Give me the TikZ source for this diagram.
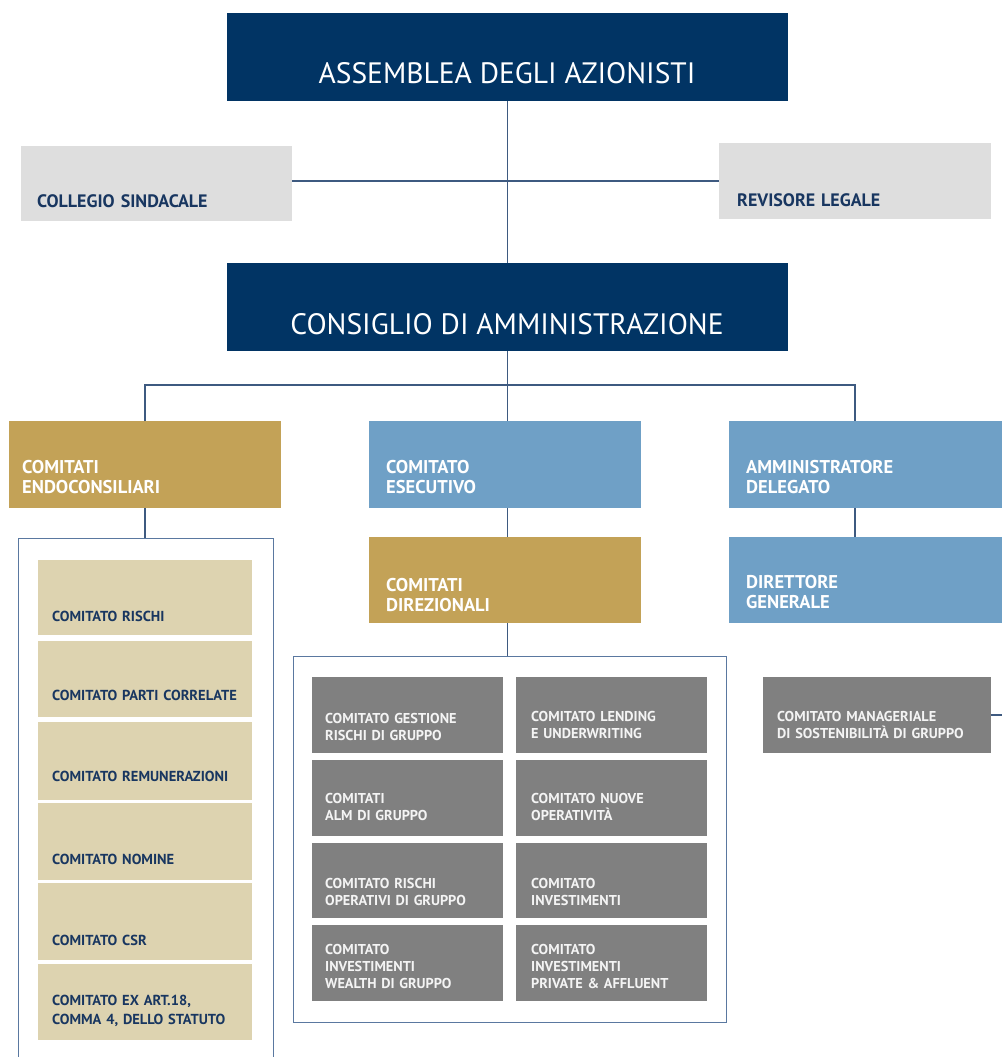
\documentclass[tikz,border=0pt]{standalone}
\usepackage{fontspec}
\setmainfont{PT Sans}
\newfontfamily\titlefont{PT Sans}
\newfontfamily\headfont{PT Sans}
\definecolor{navyc}{RGB}{1,52,100}
\definecolor{lgreyc}{RGB}{222,222,222}
\definecolor{goldc}{RGB}{195,162,87}
\definecolor{bluec}{RGB}{111,160,198}
\definecolor{beigec}{RGB}{221,211,176}
\definecolor{greyc}{RGB}{128,128,128}
\definecolor{linec}{RGB}{62,90,128}
\definecolor{framec}{RGB}{90,120,160}
\definecolor{inkc}{RGB}{24,54,96}
\definecolor{paleinkc}{RGB}{244,244,244}
\newcommand\obox[6]{\node[box,#2,minimum width=#5,minimum height=#6] (#1) at (#3,#4) {};}
\begin{document}
\begin{tikzpicture}[x=1pt,y=-1pt,
  box/.style={anchor=north west, inner sep=0pt, outer sep=0pt, draw=none},
  navybox/.style={fill=navyc},
  lgreybox/.style={fill=lgreyc},
  goldbox/.style={fill=goldc},
  bluebox/.style={fill=bluec},
  beigebox/.style={fill=beigec},
  greybox/.style={fill=greyc},
  conn/.style={draw=linec, line width=1.3pt},
  frame/.style={draw=framec, line width=1.2pt, fill=none, anchor=north west, inner sep=0pt},
  titletext/.style={anchor=base, inner sep=0pt, text=white, font=\titlefont\fontsize{29.5}{34}\selectfont},
  headtext/.style={anchor=base west, inner sep=0pt, text=white, align=left, text width=250pt,
    font=\headfont\bfseries\fontsize{18.5}{20}\selectfont},
  sidetext/.style={anchor=base west, inner sep=0pt, text=inkc, align=left, text width=250pt,
    font=\bfseries\fontsize{18}{20}\selectfont},
  beigetext/.style={anchor=base west, inner sep=0pt, text=inkc, align=left, text width=205pt,
    font=\bfseries\fontsize{14.5}{19}\selectfont},
  greytext/.style={anchor=base west, inner sep=0pt, text=paleinkc, align=left, text width=220pt,
    font=\bfseries\fontsize{14.3}{17}\selectfont},
]
\useasboundingbox (0,0) rectangle (1002,1057);

% --- governing bodies ---
\obox{ass}{navybox}{227}{13}{561}{88}
\node[titletext] (asst) at (507,83) {ASSEMBLEA DEGLI AZIONISTI};

\obox{cs}{lgreybox}{21}{146}{271}{75}
\node[sidetext] (cst) at (37,207) {COLLEGIO SINDACALE};
\obox{rl}{lgreybox}{719}{143}{272}{76}
\node[sidetext] (rlt) at (737,206) {REVISORE LEGALE};

\obox{cda}{navybox}{227}{263}{561}{88}
\node[titletext] (cdat) at (507,334) {CONSIGLIO DI AMMINISTRAZIONE};

% --- second level ---
\obox{endo}{goldbox}{9}{421}{272}{87}
\node[headtext] (endot) at (22,473) {COMITATI\\ENDOCONSILIARI};
\obox{ese}{bluebox}{369}{421}{272}{87}
\node[headtext] (eset) at (386,473) {COMITATO\\ESECUTIVO};
\obox{ad}{bluebox}{729}{421}{273}{87}
\node[headtext] (adt) at (746,473) {AMMINISTRATORE\\DELEGATO};

\obox{dir}{goldbox}{369}{537}{272}{86}
\node[headtext] (dirt) at (386,591) {COMITATI\\DIREZIONALI};
\obox{dg}{bluebox}{729}{537}{273}{86}
\node[headtext] (dgt) at (746,588) {DIRETTORE\\GENERALE};

% --- frames ---
\node[frame, minimum width=255, minimum height=530] (endoframe) at (18,538) {};
\node[frame, minimum width=433, minimum height=366] (dirframe) at (293,656) {};

% --- board committees ---
\obox{b1}{beigebox}{38}{560}{214}{75}
\node[beigetext] (b1t) at (52,621) {COMITATO RISCHI};
\obox{b2}{beigebox}{38}{641}{214}{76}
\node[beigetext] (b2t) at (52,700) {COMITATO PARTI CORRELATE};
\obox{b3}{beigebox}{38}{722}{214}{78}
\node[beigetext] (b3t) at (52,781) {COMITATO REMUNERAZIONI};
\obox{b4}{beigebox}{38}{803}{214}{77}
\node[beigetext] (b4t) at (52,864) {COMITATO NOMINE};
\obox{b5}{beigebox}{38}{883}{214}{77}
\node[beigetext] (b5t) at (52,945) {COMITATO CSR};
\obox{b6}{beigebox}{38}{964}{214}{76}
\node[beigetext] (b6t) at (52,1005) {COMITATO EX ART.18,\\COMMA 4, DELLO STATUTO};

% --- management committees ---
\obox{g1}{greybox}{312}{677}{191}{76}
\node[greytext] (g1t) at (325,723) {COMITATO GESTIONE\\RISCHI DI GRUPPO};
\obox{g2}{greybox}{516}{677}{191}{76}
\node[greytext] (g2t) at (531,721) {COMITATO LENDING\\E UNDERWRITING};
\obox{g3}{greybox}{312}{760}{191}{76}
\node[greytext] (g3t) at (325,803) {COMITATI\\ALM DI GRUPPO};
\obox{g4}{greybox}{516}{760}{191}{76}
\node[greytext] (g4t) at (531,803) {COMITATO NUOVE\\OPERATIVITÀ};
\obox{g5}{greybox}{312}{843}{191}{75}
\node[greytext] (g5t) at (325,888) {COMITATO RISCHI\\OPERATIVI DI GRUPPO};
\obox{g6}{greybox}{516}{843}{191}{75}
\node[greytext] (g6t) at (531,888) {COMITATO\\INVESTIMENTI};
\obox{g7}{greybox}{312}{925}{191}{76}
\node[greytext] (g7t) at (325,954) {COMITATO\\INVESTIMENTI\\WEALTH DI GRUPPO};
\obox{g8}{greybox}{516}{925}{191}{76}
\node[greytext] (g8t) at (531,954) {COMITATO\\INVESTIMENTI\\PRIVATE \& AFFLUENT};

\obox{man}{greybox}{763}{677}{228}{76}
\node[greytext] (mant) at (777,721) {COMITATO MANAGERIALE\\DI SOSTENIBILITÀ DI GRUPPO};

% --- connectors ---
\coordinate (hub) at (507.5,181);
\coordinate (split) at (507.5,385);
\coordinate (adtop) at (855,421);
\coordinate (adbot) at (855,508);
\coordinate (dgtop) at (855,537);
\coordinate (manout) at (1002,715);

\draw[conn] (ass.south) -- (cda.north);
\draw[conn] (cs.east |- hub) -- (rl.west |- hub);
\draw[conn] (cda.south) -- (split);
\draw[conn] (endo.north) -- (endo.north |- split) -- (adtop |- split) -- (adtop);
\draw[conn] (split) -- (ese.north -| split);
\draw[conn] (endo.south) -- (endoframe.north -| endo.south);
\draw[conn] (ese.south -| split) -- (dir.north -| split);
\draw[conn] (dir.south -| split) -- (dirframe.north -| split);
\draw[conn] (adbot) -- (dgtop);
\draw[conn] (man.east |- manout) -- (manout);
\end{tikzpicture}
\end{document}
